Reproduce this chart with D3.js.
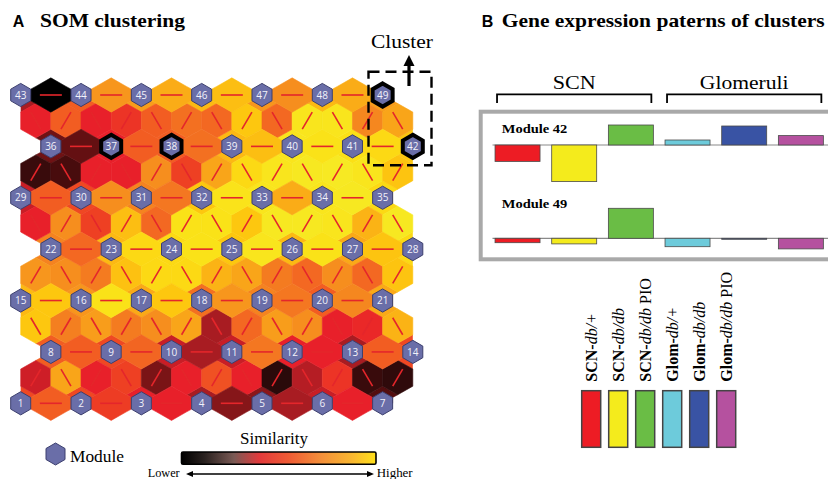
<!DOCTYPE html>
<html lang="en">
<head>
<meta charset="utf-8">
<title>SOM clustering</title>
<style>
  body { margin: 0; background: #fff; }
  svg { display: block; font-family: "Liberation Serif", "Times New Roman", serif; }
  .num { font-family: "Open Sans", sans-serif; font-size: 10px; fill: #f2f2fa; text-anchor: middle; }
  .panel { font-family: "Liberation Sans", Arial, sans-serif; font-weight: bold; font-size: 16px; }
  .title { font-weight: bold; font-size: 19px; }
</style>
</head>
<body>
<script src="https://d3js.org/d3.v7.min.js"></script>
<script>
  // ---- panel A: SOM u-matrix (rows listed bottom to top) ----
  const highlighted = [37, 38, 42, 49];

  // value of the cell under each module, 7 rows x 7
  const nodeVal = [
    [0.50, 0.50, 0.40, 0.30, 0.25, 0.35, 0.15],
    [0.55, 0.50, 0.35, 0.35, 0.40, 0.30, 0.50],
    [0.80, 0.70, 0.75, 0.60, 0.65, 0.55, 0.75],
    [0.65, 0.80, 0.90, 0.85, 0.80, 0.75, 0.90],
    [0.35, 0.50, 0.65, 0.85, 0.95, 0.95, 0.90],
    [0.20, 0.40, 0.55, 0.80, 0.95, 0.92, 0.85],
    [0.30, 0.55, 0.72, 0.80, 0.70, 0.80, 0.72]
  ];

  // cells between neighbouring modules of the same row
  const hConn = [
    [0.55, 0.47, 0.40, 0.24, 0.30, 0.40],
    [0.55, 0.57, 0.30, 0.62, 0.40, 0.55],
    [0.85, 0.93, 0.85, 0.70, 0.62, 0.66],
    [0.58, 0.90, 0.93, 0.95, 0.93, 0.84],
    [0.55, 0.68, 0.62, 0.94, 0.76, 0.97],
    [0.18, 0.55, 0.60, 0.82, 0.93, 0.90],
    [0.00, 0.70, 0.76, 0.82, 0.68, 0.76]
  ];

  // cells between two module rows
  const dConn = [
    [0.36, 0.74, 0.40, 0.48, 0.22, 0.40, 0.52, 0.40, 0.07, 0.32, 0.45, 0.10, 0.08],
    [0.85, 0.64, 0.72, 0.63, 0.68, 0.74, 0.30, 0.58, 0.72, 0.68, 0.40, 0.42, 0.78],
    [0.70, 0.68, 0.63, 0.83, 0.90, 0.90, 0.78, 0.74, 0.63, 0.58, 0.68, 0.58, 0.84],
    [0.40, 0.68, 0.48, 0.82, 0.58, 0.93, 0.93, 0.85, 0.97, 0.97, 0.95, 0.78, 0.97],
    [0.10, 0.13, 0.40, 0.40, 0.68, 0.48, 0.74, 0.90, 0.95, 0.97, 0.98, 0.95, 0.84],
    [0.40, 0.55, 0.40, 0.45, 0.55, 0.60, 0.58, 0.85, 0.58, 0.95, 0.95, 0.66, 0.74]
  ];

  const simStops  = [0, 0.07, 0.14, 0.22, 0.30, 0.40, 0.48, 0.56, 0.64, 0.70, 0.77, 0.85, 0.92, 1];
  const simColors = ["#000000", "#2a0a0a", "#4d0c0e", "#7a1416", "#a81c22", "#e8202a", "#ee4023",
                     "#f26122", "#f47f20", "#f7961d", "#fbb016", "#fdc70f", "#fbe016", "#f5ec28"];
  const legendStops  = [0, 0.12, 0.27, 0.40, 0.55, 0.72, 0.88, 1];
  const legendColors = ["#000000", "#2a2220", "#7a5a55", "#e23a3c", "#ef5b35", "#f4903a", "#f9b830", "#ffe01a"];

  // ---- panel B ----
  const samples = [
    [["SCN-", "b"], ["db/+", "i"]],
    [["SCN-", "b"], ["db/db", "i"]],
    [["SCN-", "b"], ["db/db", "i"], [" PIO", "n"]],
    [["Glom-", "b"], ["db/+", "i"]],
    [["Glom-", "b"], ["db/db", "i"]],
    [["Glom-", "b"], ["db/db", "i"], [" PIO", "n"]]
  ];
  const sampleColors = ["#ed1c24", "#f4eb1c", "#6abd45", "#6dcbdb", "#3953a4", "#b5519f"];
  const module42 = [-0.82, -1.83, 1.00, 0.25, 0.95, 0.47];
  const module49 = [-0.22, -0.28, 1.50, -0.42, -0.03, -0.53];
  const groups = [{name: "SCN", from: 0, to: 2}, {name: "Glomeruli", from: 3, to: 5}];

  const svg = d3.select("body").append("svg")
    .attr("width", 828)
    .attr("height", 479);

  // ---------- panel A ----------
  const x = d3.scaleLinear().domain([0, 26]).range([20.7, 412.8]);
  const y = d3.scaleLinear().domain([0, 12]).range([403.3, 95]);
  const color = d3.scaleLinear().domain(simStops).range(simColors).clamp(true);

  const u = (x(26) - x(0)) / 26, R = 17.13, S = 8.57;
  const hexPts = [[0, -R], [u, -S], [u, S], [0, R], [-u, S], [-u, -S]];
  const wide = 2 * u - 10;
  const widePts = [[0, -R], [u, -S], [wide, -5.8], [wide, 5.8], [u, S], [0, R],
                   [-u, S], [-wide, 5.8], [-wide, -5.8], [-u, -S]];
  // cell under a module: narrow, with small side notches that fill the gaps
  const nodePts = [[0, -R], [10, -11.4], [u, -S], [10, -5.8], [10, 5.8], [u, S], [10, 11.4], [0, R],
                   [-10, 11.4], [-u, S], [-10, 5.8], [-10, -5.8], [-u, -S], [-10, -11.4]];
  const markPts = [[0, -11.6], [10, -5.8], [10, 5.8], [0, 11.6], [-10, 5.8], [-10, -5.8]];
  const poly = pts => "M" + pts.map(p => p.join(",")).join("L") + "Z";

  const nodes = [], cells = [];
  nodeVal.forEach((row, i) => {
    const off = i % 2 ? 2 : 0;
    row.forEach((v, j) => nodes.push({id: i * 7 + j + 1, k: off + 4 * j, r: 2 * i, v: v}));
    hConn[i].forEach((v, j) => cells.push({k: off + 4 * j + 2, r: 2 * i, v: v, kind: "h"}));
  });
  dConn.forEach((row, i) => {
    const off = i % 2 ? 2 : 0;
    row.forEach((v, m) => {
      const k = 1 + 2 * m;
      const rising = ((k - 1 - off) % 4 + 4) % 4 === 0;
      cells.push({k: k, r: 2 * i + 1, v: v, kind: rising ? "up" : "down"});
    });
  });

  const map = svg.append("g");

  // module cells stay inside the map outline
  svg.append("defs").append("clipPath").attr("id", "mapclip")
    .append("rect")
    .attr("x", x(0)).attr("y", y(12))
    .attr("width", x(26) - x(0)).attr("height", y(0) - y(12));

  map.append("g").attr("clip-path", "url(#mapclip)")
    .selectAll("path.ncell").data(nodes).join("path")
    .attr("class", "ncell")
    .attr("transform", d => `translate(${x(d.k)},${y(d.r)})`)
    .attr("d", poly(nodePts))
    .attr("fill", d => color(d.v))
    .attr("stroke", d => color(d.v)).attr("stroke-width", 0.6);

  const order = cells.slice().sort((a, b) => (a.kind === "h") - (b.kind === "h"));
  map.selectAll("path.cell").data(order).join("path")
    .attr("class", "cell")
    .attr("transform", d => `translate(${x(d.k)},${y(d.r)})`)
    .attr("d", d => poly(d.kind === "h" ? widePts : hexPts))
    .attr("fill", d => color(d.v))
    .attr("stroke", d => color(d.v)).attr("stroke-width", 0.6);

  // connection strokes
  const ux = 5.0, uy = 8.5;
  map.selectAll("line.link").data(cells).join("line")
    .attr("class", "link")
    .attr("x1", d => x(d.k) + (d.kind === "h" ? -11 : -ux))
    .attr("x2", d => x(d.k) + (d.kind === "h" ? 11 : ux))
    .attr("y1", d => y(d.r) + (d.kind === "h" ? 0 : d.kind === "up" ? uy : -uy))
    .attr("y2", d => y(d.r) + (d.kind === "h" ? 0 : d.kind === "up" ? -uy : uy))
    .attr("stroke", "#e4262b")
    .attr("stroke-width", 1.6);

  const mk = map.selectAll("g.node").data(nodes).join("g")
    .attr("class", "node")
    .attr("transform", d => `translate(${x(d.k)},${y(d.r)})`);
  mk.append("path")
    .attr("d", poly(markPts))
    .attr("fill", "#6a6ea8")
    .attr("stroke", d => highlighted.includes(d.id) ? "#000" : "#3c3f6e")
    .attr("stroke-width", d => highlighted.includes(d.id) ? 4 : 1);
  mk.append("text")
    .attr("class", "num")
    .attr("y", 3.6)
    .text(d => d.id);

  // cluster box
  svg.append("rect")
    .attr("x", 368.5).attr("y", 71.7).attr("width", 63).attr("height", 93.5)
    .attr("fill", "none").attr("stroke", "#000").attr("stroke-width", 2.4)
    .attr("stroke-dasharray", "11,6");
  svg.append("line")
    .attr("x1", 409).attr("x2", 409).attr("y1", 86).attr("y2", 64)
    .attr("stroke", "#000").attr("stroke-width", 3.2);
  svg.append("path")
    .attr("d", "M403.5,66L414.5,66L409,55Z").attr("fill", "#000");
  svg.append("text")
    .attr("x", 371).attr("y", 48.3)
    .attr("font-size", 19).attr("textLength", 62).attr("lengthAdjust", "spacingAndGlyphs")
    .text("Cluster");

  // titles
  svg.append("text").attr("class", "panel").attr("x", 12.7).attr("y", 26.7).text("A");
  svg.append("text").attr("class", "title").attr("x", 40).attr("y", 27)
    .attr("textLength", 145).attr("lengthAdjust", "spacingAndGlyphs").text("SOM clustering");
  svg.append("text").attr("class", "panel").attr("x", 481.7).attr("y", 27.3).text("B");
  svg.append("text").attr("class", "title").attr("x", 501.7).attr("y", 27.3)
    .attr("textLength", 323).attr("lengthAdjust", "spacingAndGlyphs")
    .text("Gene expression paterns of clusters");

  // module legend
  svg.append("path")
    .attr("transform", "translate(55.5,454)")
    .attr("d", poly([[0, -11], [9.5, -5.5], [9.5, 5.5], [0, 11], [-9.5, 5.5], [-9.5, -5.5]]))
    .attr("fill", "#6a6ea8").attr("stroke", "#3c3f6e");
  svg.append("text").attr("x", 70).attr("y", 461.5).attr("font-size", 16)
    .attr("textLength", 54).attr("lengthAdjust", "spacingAndGlyphs").text("Module");

  // similarity legend
  const grad = svg.select("defs").append("linearGradient").attr("id", "sim");
  grad.selectAll("stop").data(legendStops).join("stop")
    .attr("offset", d => d)
    .attr("stop-color", (d, i) => legendColors[i]);
  svg.append("text").attr("x", 240).attr("y", 444.3).attr("font-size", 16)
    .attr("textLength", 68).attr("lengthAdjust", "spacingAndGlyphs").text("Similarity");
  svg.append("rect")
    .attr("x", 181.5).attr("y", 452).attr("width", 194.5).attr("height", 12.3).attr("rx", 1.5)
    .attr("fill", "url(#sim)").attr("stroke", "#000").attr("stroke-width", 1.6);
  svg.append("line").attr("x1", 190).attr("x2", 370).attr("y1", 474).attr("y2", 474)
    .attr("stroke", "#000").attr("stroke-width", 1.3);
  svg.append("path").attr("d", "M186,474L193,471L193,477Z M374,474L367,471L367,477Z").attr("fill", "#000");
  svg.append("text").attr("x", 147.7).attr("y", 477.3).attr("font-size", 12)
    .attr("textLength", 32).attr("lengthAdjust", "spacingAndGlyphs").text("Lower");
  svg.append("text").attr("x", 376.7).attr("y", 477.3).attr("font-size", 12)
    .attr("textLength", 36).attr("lengthAdjust", "spacingAndGlyphs").text("Higher");

  // ---------- panel B ----------
  const xb = d3.scaleBand().domain(d3.range(6)).range([489.2, 829.2])
    .paddingInner(0.206).paddingOuter(0.103);

  const br = svg.append("g");
  groups.forEach(g => {
    const x0 = xb(g.from) + 2, x1 = xb(g.to) + xb.bandwidth() - 2;
    br.append("path")
      .attr("d", `M${x0},103V94.3H${x1}V103`)
      .attr("fill", "none").attr("stroke", "#000").attr("stroke-width", 1.8);
    br.append("text")
      .attr("x", (x0 + x1) / 2).attr("y", 89).attr("text-anchor", "middle")
      .attr("font-size", 19)
      .attr("textLength", g.name.length > 3 ? 88.7 : 43).attr("lengthAdjust", "spacingAndGlyphs")
      .text(g.name);
  });

  svg.append("rect")
    .attr("x", 480.7).attr("y", 111.7).attr("width", 360).attr("height", 147.6)
    .attr("fill", "none").attr("stroke", "#a9a9a9").attr("stroke-width", 4);

  const panels = [
    {label: "Module 42", values: module42, base: 145, ly: 132.7},
    {label: "Module 49", values: module49, base: 238.3, ly: 208.3}
  ];
  panels.forEach(p => {
    const yb = d3.scaleLinear().domain([0, 1]).range([p.base, p.base - 20]);
    const g = svg.append("g");
    g.append("text")
      .attr("x", 501.7).attr("y", p.ly).attr("font-size", 12).attr("font-weight", "bold")
      .attr("textLength", 65.7).attr("lengthAdjust", "spacingAndGlyphs")
      .text(p.label);
    g.append("line")
      .attr("x1", 492.5).attr("x2", 828).attr("y1", yb(0)).attr("y2", yb(0))
      .attr("stroke", "#8a8a8a").attr("stroke-width", 1.2);
    g.selectAll("rect").data(p.values).join("rect")
      .attr("x", (d, i) => xb(i))
      .attr("width", xb.bandwidth())
      .attr("y", d => Math.min(yb(0), yb(d)))
      .attr("height", d => Math.max(1, Math.abs(yb(d) - yb(0))))
      .attr("fill", (d, i) => sampleColors[i])
      .attr("stroke", "#4a4a4a").attr("stroke-width", 0.8);
  });

  // sample colour key
  const xk = d3.scaleBand().domain(d3.range(6)).range([577.7, 739.7])
    .paddingInner(0.296).paddingOuter(0.148);
  const key = svg.append("g");
  key.selectAll("rect").data(sampleColors).join("rect")
    .attr("x", (d, i) => xk(i))
    .attr("y", 390.7)
    .attr("width", xk.bandwidth())
    .attr("height", 56.6)
    .attr("fill", d => d)
    .attr("stroke", "#444").attr("stroke-width", 1.5);
  const lbl = key.selectAll("text").data(samples).join("text")
    .attr("transform", (d, i) => `translate(${xk(i) + xk.bandwidth() / 2 + 5.5},381.7) rotate(-90)`)
    .attr("text-anchor", "start")
    .attr("font-size", 16);
  lbl.each(function(parts) {
    const t = d3.select(this);
    parts.forEach(([s, st]) => {
      t.append("tspan")
        .attr("font-weight", st === "b" ? "bold" : "normal")
        .attr("font-style", st === "i" ? "italic" : "normal")
        .text(s);
    });
  });
</script>
</body>
</html>
